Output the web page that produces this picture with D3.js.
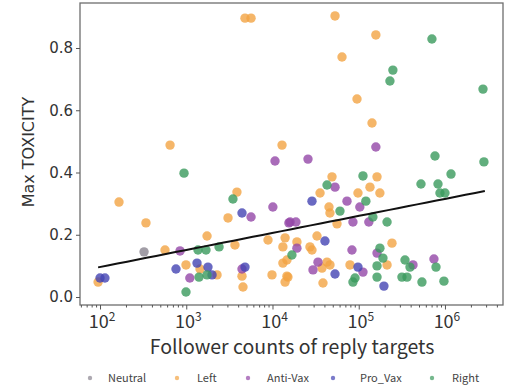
<!DOCTYPE html>
<html>
<head>
<meta charset="utf-8">
<script src="https://cdn.jsdelivr.net/npm/d3@7"></script>
<style>
  html, body { margin: 0; padding: 0; background: #fff; }
  svg { display: block; }
</style>
</head>
<body>
<svg id="chart" width="511" height="392"></svg>
<script>
// Reply-target follower counts vs. maximum toxicity, by account group
const categories = ["Neutral", "Left", "Anti-Vax", "Pro_Vax", "Right"];

const neutralFollowers = [324];
const neutralToxicity  = [0.145];

const leftFollowers = [4800, 5640, 649, 12900, 53100, 158000, 64000, 95500, 142600, 166,
  341, 567, 993, 1443, 2274, 1742, 3050, 3870, 3670, 4430,
  4550, 8870, 9870, 13200, 13200, 15100, 95, 49000, 163000, 35600,
  98000, 135000, 176000, 45200, 46400, 56000, 14000, 32800, 19200, 27200,
  28700, 14700, 243000, 42900, 46400, 37500, 14700, 79200, 213000, 38500,
  14000];
const leftToxicity = [0.896, 0.896, 0.488, 0.488, 0.903, 0.842, 0.771, 0.636, 0.559, 0.305,
  0.238, 0.151, 0.103, 0.090, 0.071, 0.196, 0.254, 0.337, 0.167, 0.067,
  0.032, 0.183, 0.071, 0.161, 0.109, 0.064, 0.048, 0.386, 0.386, 0.334,
  0.334, 0.353, 0.334, 0.289, 0.270, 0.235, 0.190, 0.196, 0.177, 0.161,
  0.151, 0.119, 0.173, 0.112, 0.103, 0.093, 0.067, 0.103, 0.103, 0.045,
  0.048];

const antiVaxFollowers = [158000, 25800, 10700, 847, 1100, 4430, 10100, 5640, 15500, 53100,
  73100, 103000, 16000, 18700, 85700, 131000, 19200, 83500, 163000, 33700,
  29500, 112000, 426000, 745000];
const antiVaxToxicity = [0.482, 0.443, 0.437, 0.148, 0.061, 0.090, 0.289, 0.257, 0.238, 0.353,
  0.308, 0.289, 0.241, 0.241, 0.241, 0.241, 0.157, 0.151, 0.141, 0.112,
  0.087, 0.080, 0.103, 0.122];

const proVaxFollowers = [100, 114, 760, 1333, 1786, 1990, 4430, 4800, 28700, 40600,
  53100, 98000, 196000];
const proVaxToxicity = [0.061, 0.061, 0.090, 0.109, 0.096, 0.071, 0.270, 0.096, 0.308, 0.180,
  0.074, 0.096, 0.035];

const rightFollowers = [706000, 249000, 230000, 2760000, 766000, 2830000, 942, 1406, 1742, 993,
  1368, 1694, 2400, 3480, 1175000, 527000, 830000, 875000, 1000000, 112000,
  42900, 121000, 60600, 146000, 213000, 16800, 176000, 191000, 163000, 344000,
  393000, 787000, 317000, 363000, 163000, 90600, 541000, 973000, 85700];
const rightToxicity = [0.829, 0.729, 0.694, 0.668, 0.453, 0.434, 0.398, 0.064, 0.071, 0.016,
  0.151, 0.151, 0.161, 0.315, 0.395, 0.363, 0.363, 0.334, 0.334, 0.389,
  0.360, 0.308, 0.276, 0.257, 0.241, 0.135, 0.157, 0.125, 0.100, 0.119,
  0.096, 0.096, 0.064, 0.064, 0.064, 0.061, 0.048, 0.051, 0.048];

// Fitted trend: toxicity = intercept + slope * log10(followers)
const trendIntercept = -0.013;
const trendSlope = 0.0547;
const trendExtent = [95, 2900000];

const yTicks = [0.0, 0.2, 0.4, 0.6, 0.8];
const xTicks = [1e2, 1e3, 1e4, 1e5, 1e6];
const xTickExponents = ["2", "3", "4", "5", "6"];

const palette = {
  "Neutral": "#8a8490",
  "Left": "#f2a444",
  "Anti-Vax": "#9447a8",
  "Pro_Vax": "#4343b3",
  "Right": "#3a9a5c"
};

const seriesByName = {
  "Neutral": [neutralFollowers, neutralToxicity],
  "Left": [leftFollowers, leftToxicity],
  "Anti-Vax": [antiVaxFollowers, antiVaxToxicity],
  "Pro_Vax": [proVaxFollowers, proVaxToxicity],
  "Right": [rightFollowers, rightToxicity]
};

const svg = d3.select("#chart");
const plot = { left: 80, right: 503, top: 3, bottom: 305 };

const x = d3.scaleLog()
  .domain([58.6, 4.71e6])
  .range([plot.left, plot.right]);
const y = d3.scaleLinear()
  .domain([-0.0257, 0.9446])
  .range([plot.bottom, plot.top]);

// Points
const pts = svg.append("g");
categories.forEach(name => {
  const [fx, ty] = seriesByName[name];
  const rows = fx.map((f, i) => ({ f, t: ty[i] }));
  pts.selectAll(null)
    .data(rows)
    .enter()
    .append("circle")
    .attr("cx", d => x(d.f))
    .attr("cy", d => y(d.t))
    .attr("r", 4.7)
    .attr("fill", palette[name])
    .attr("fill-opacity", 0.8);
});

// Trend line
const trendPts = d3.range(0, 41).map(i => {
  const lg = Math.log10(trendExtent[0]) + (Math.log10(trendExtent[1]) - Math.log10(trendExtent[0])) * i / 40;
  return [Math.pow(10, lg), trendIntercept + trendSlope * lg];
});
svg.append("path")
  .datum(trendPts)
  .attr("fill", "none")
  .attr("stroke", "#111")
  .attr("stroke-width", 2)
  .attr("d", d3.line().x(d => x(d[0])).y(d => y(d[1])));

// Frame
svg.append("rect")
  .attr("x", plot.left).attr("y", plot.top)
  .attr("width", plot.right - plot.left).attr("height", plot.bottom - plot.top)
  .attr("fill", "none").attr("stroke", "#6e6e6e").attr("stroke-width", 1.3);

// Y axis
const yAxis = svg.append("g")
  .attr("transform", `translate(${plot.left},0)`)
  .call(d3.axisLeft(y).tickValues(yTicks).tickFormat(d3.format(".1f")).tickSize(4).tickPadding(3));
yAxis.select(".domain").remove();
yAxis.selectAll(".tick line").attr("stroke", "#555");
yAxis.selectAll(".tick text")
  .attr("fill", "#333")
  .style("font-family", "DejaVu Sans")
  .style("font-size", "15px");

// X axis: major + minor ticks
const minorTicks = [];
for (let e = 1; e <= 6; e++) {
  for (let m = 2; m <= 9; m++) {
    const v = m * Math.pow(10, e);
    if (v > x.domain()[0] && v < x.domain()[1]) minorTicks.push(v);
  }
}
const xMinor = svg.append("g")
  .attr("transform", `translate(0,${plot.bottom})`)
  .call(d3.axisBottom(x).tickValues(minorTicks).tickFormat("").tickSize(2.5));
xMinor.select(".domain").remove();
xMinor.selectAll(".tick line").attr("stroke", "#555");

const xAxis = svg.append("g")
  .attr("transform", `translate(0,${plot.bottom})`)
  .call(d3.axisBottom(x).tickValues(xTicks).tickFormat("").tickSize(4.5));
xAxis.select(".domain").remove();
xAxis.selectAll(".tick line").attr("stroke", "#555");

const xLabels = svg.append("g");
xTicks.forEach((v, i) => {
  const t = xLabels.append("text")
    .attr("x", x(v) + 2)
    .attr("y", 328)
    .attr("text-anchor", "middle")
    .attr("fill", "#333")
    .style("font-family", "Noto Sans CJK JP")
    .style("font-size", "18px");
  t.append("tspan").text("10");
  t.append("tspan").attr("dy", -7).style("font-size", "12px").text(xTickExponents[i]);
});

// Axis titles
svg.append("text")
  .attr("x", 292).attr("y", 354)
  .attr("text-anchor", "middle")
  .attr("fill", "#333")
  .style("font-family", "Noto Sans CJK JP")
  .style("font-size", "19.5px")
  .text("Follower counts of reply targets");

svg.append("text")
  .attr("transform", "translate(34,152) rotate(-90)")
  .attr("text-anchor", "middle")
  .attr("fill", "#333")
  .style("font-family", "DejaVu Sans")
  .style("font-size", "16px")
  .text("Max TOXICITY");

// Legend
const legendItems = [
  { name: "Neutral", mx: 90, tx: 108 },
  { name: "Left", mx: 177, tx: 197 },
  { name: "Anti-Vax", mx: 248, tx: 267 },
  { name: "Pro_Vax", mx: 333, tx: 360 },
  { name: "Right", mx: 432, tx: 452 }
];
const legend = svg.append("g");
legendItems.forEach(it => {
  legend.append("circle")
    .attr("cx", it.mx).attr("cy", 378).attr("r", 2.2)
    .attr("fill", palette[it.name]).attr("fill-opacity", 0.7);
  legend.append("text")
    .attr("x", it.tx).attr("y", 382)
    .attr("fill", "#444")
    .style("font-family", "Noto Sans CJK JP")
    .style("font-size", "11px")
    .text(it.name);
});
</script>
</body>
</html>
